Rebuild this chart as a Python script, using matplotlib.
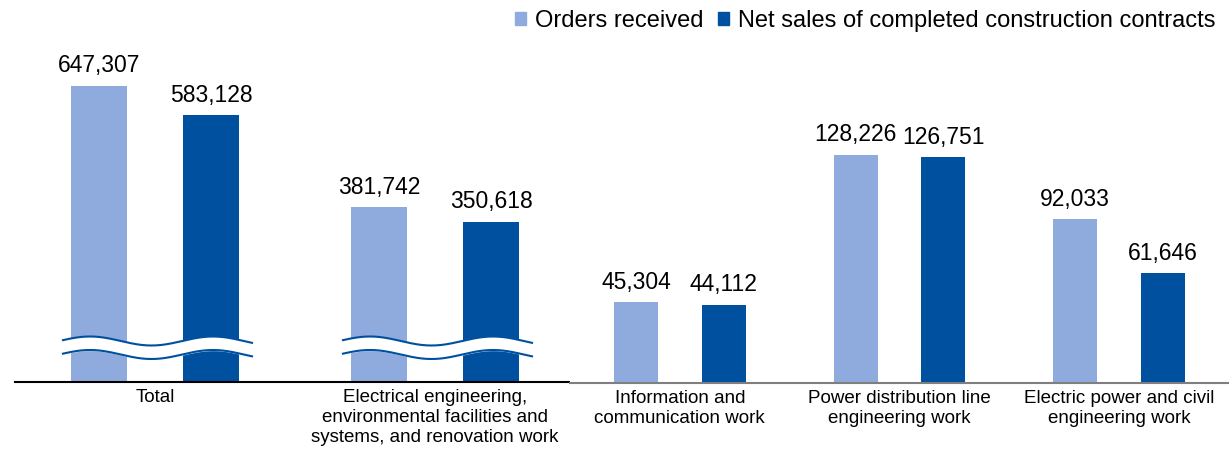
import numpy as np
import matplotlib
matplotlib.use("Agg")
import matplotlib.pyplot as plt
from matplotlib.patches import Patch
from matplotlib.transforms import blended_transform_factory

plt.rcParams['font.family'] = ['Liberation Sans', 'DejaVu Sans']

# 数据
left_cats = ["Total",
             "Electrical engineering,\nenvironmental facilities and\nsystems, and renovation work"]
left_orders = [647307, 381742]
left_sales = [583128, 350618]

right_cats = ["Information and\ncommunication work",
              "Power distribution line\nengineering work",
              "Electric power and civil\nengineering work"]
right_orders = [45304, 128226, 92033]
right_sales = [44112, 126751, 61646]

series_names = ["Orders received", "Net sales of completed construction contracts"]

C_LIGHT = "#8FAADC"
C_DARK = "#0050A0"

W, H = 1229, 451
fig = plt.figure(figsize=(W / 100, H / 100), dpi=100)

ax_l = fig.add_axes([15 / W, (H - 382) / H, 560 / W, 362 / H])
ax_r = fig.add_axes([570 / W, (H - 383) / H, 659 / W, 363 / H])


def draw_group(ax, cats, orders, sales, ymax, spine_color):
    x = np.arange(len(cats))
    bw = 0.2
    b1 = ax.bar(x - bw, orders, bw, color=C_LIGHT, zorder=2)
    b2 = ax.bar(x + bw, sales, bw, color=C_DARK, zorder=2)
    for bars in (b1, b2):
        for r in bars:
            ax.annotate(f"{int(r.get_height()):,}",
                        (r.get_x() + r.get_width() / 2, r.get_height()),
                        xytext=(0, 6), textcoords="offset points",
                        ha="center", va="bottom", fontsize=16.5)
    ax.set_xlim(-0.5, len(cats) - 0.5)
    ax.set_ylim(0, ymax)
    for s in ("left", "right", "top"):
        ax.spines[s].set_visible(False)
    ax.spines["bottom"].set_color(spine_color)
    ax.spines["bottom"].set_linewidth(1.5)
    ax.set_yticks([])
    ax.set_xticks([])
    trans = blended_transform_factory(ax.transData, ax.transAxes)
    for xi, c in zip(x, cats):
        ax.annotate(c, (xi, 0), xycoords=trans, xytext=(0, -5),
                    textcoords="offset points", ha="center", va="top",
                    fontsize=13.5, linespacing=1.22, annotation_clip=False)
    return trans


trans_l = draw_group(ax_l, left_cats, left_orders, left_sales, 791000, "black")
draw_group(ax_r, right_cats, right_orders, right_sales, 204000, "#7f7f7f")

# 断轴波浪线
px = 280.0  # 每个类别的像素宽
hgt = 362.0
for xc in range(len(left_cats)):
    xs_px = np.linspace(-92, 97, 200)
    wave = 4.5 * np.cos(2 * np.pi * (xs_px + 65) / 123) / hgt
    xs = xc + xs_px / px
    y_top = 41 / hgt + wave
    y_bot = 27.5 / hgt + wave
    ax_l.fill_between(xs, y_bot, y_top, color="white", transform=trans_l, zorder=3)
    ax_l.plot(xs, y_top, color=C_DARK, lw=1.5, transform=trans_l, zorder=4)
    ax_l.plot(xs, y_bot, color=C_DARK, lw=1.5, transform=trans_l, zorder=4)

handles = [Patch(color=C_LIGHT), Patch(color=C_DARK)]
fig.legend(handles, series_names, loc="upper right", ncol=2,
           bbox_to_anchor=(1216 / W, 1 - 10 / H), frameon=False, fontsize=17,
           handlelength=0.47, handleheight=0.47, handletextpad=0.4,
           columnspacing=0.6, borderpad=0, borderaxespad=0)

fig.savefig("out.png", dpi=100)
